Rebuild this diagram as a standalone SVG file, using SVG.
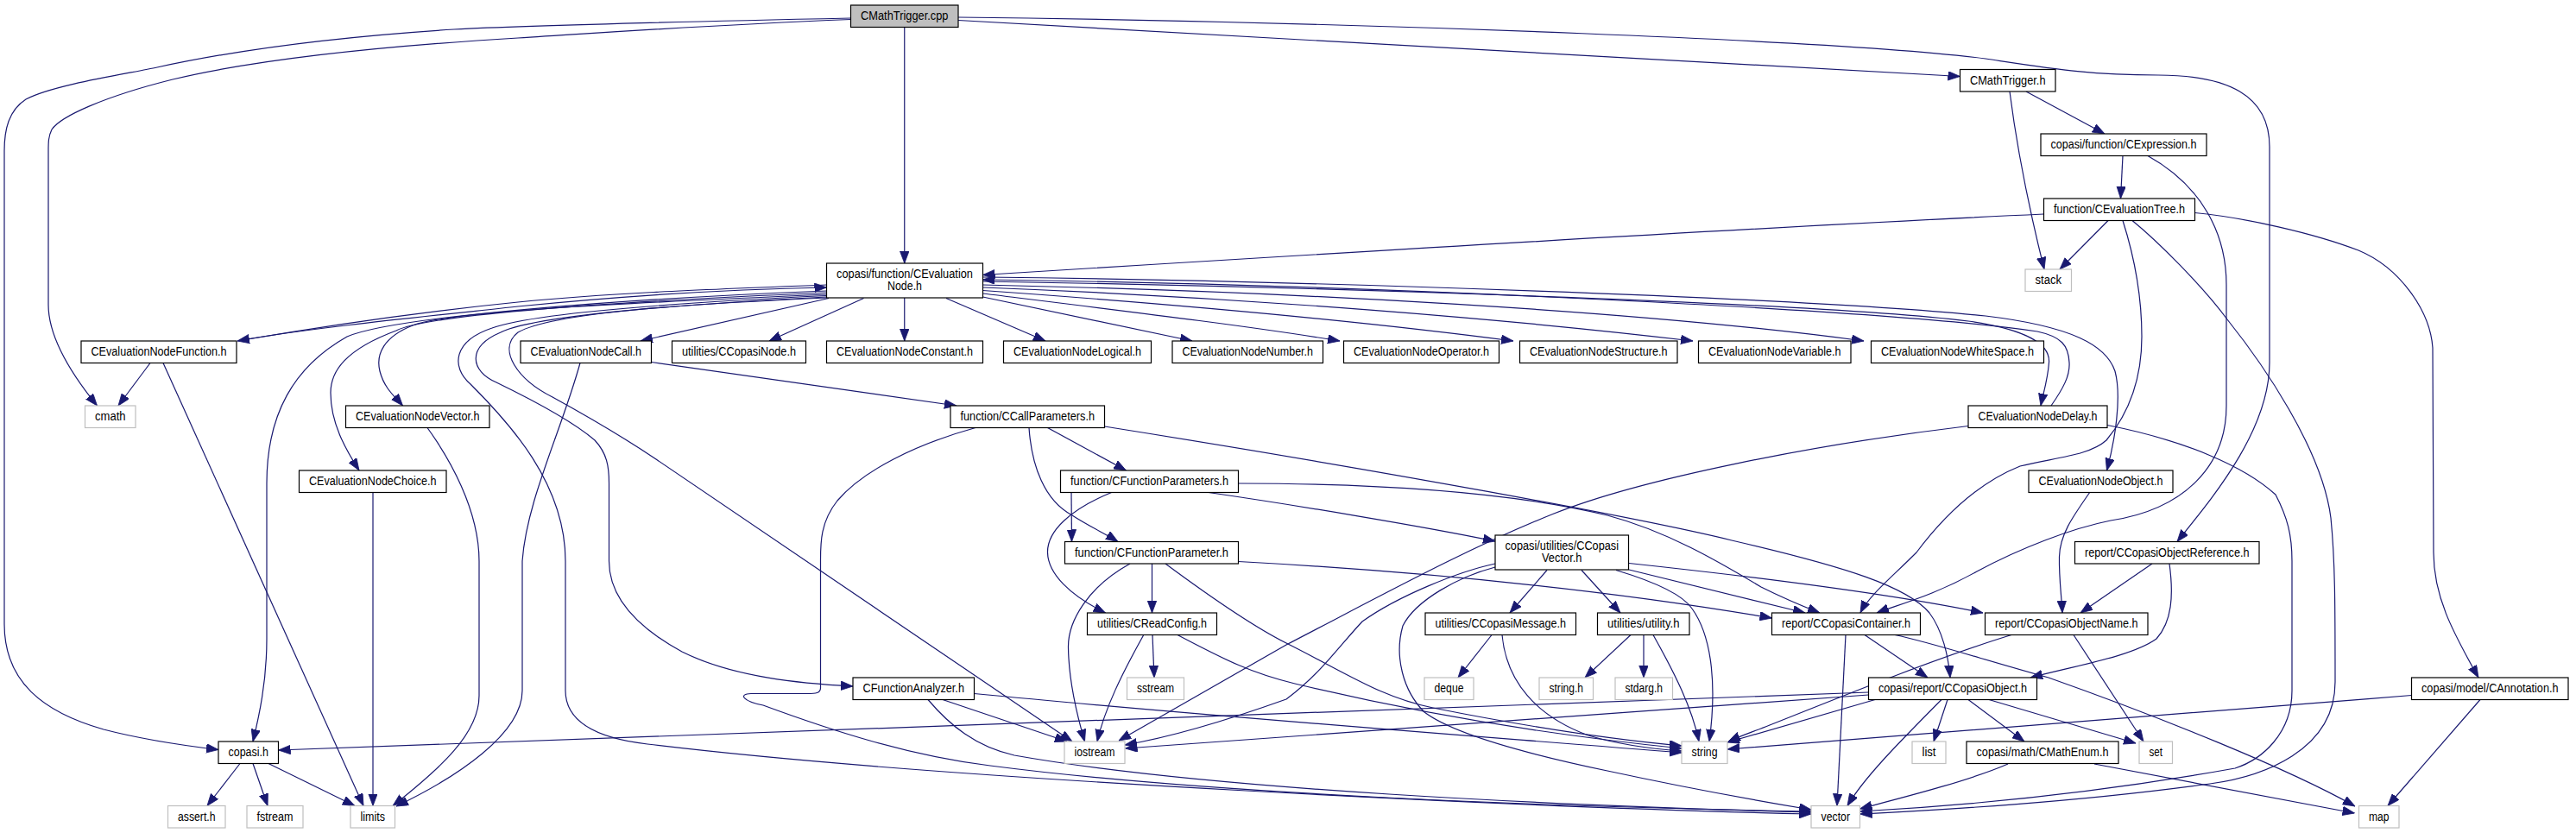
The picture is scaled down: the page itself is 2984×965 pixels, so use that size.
<svg xmlns="http://www.w3.org/2000/svg" width="2984" height="965" viewBox="0 0 2984 965">
<style>
.node rect{fill:#fff;stroke:#000;stroke-width:1.2}
.sys rect{stroke:#bfbfbf}
.root rect{fill:#bfbfbf}
text{font-family:"Liberation Sans",Arial,sans-serif;font-size:14px;text-anchor:middle;fill:#000}
#edges path{fill:none;stroke:#191970;stroke-width:1.2;marker-end:url(#ah)}
</style>
<defs>
<marker id="ah" markerWidth="14" markerHeight="11" refX="14" refY="5.25" orient="auto" markerUnits="userSpaceOnUse"><path d="M0,0 L14,5.25 L0,10.5 z" fill="#191970" stroke="#191970" stroke-width="0.8"/></marker>
</defs>
<rect width="2984" height="965" fill="#fff"/>
<g id="edges">
<path d="M985.5,21 C800,25 600,30 526,34 C400,42 287,55 182,78 C150,85 62,98 30,115 C10,128 5,150 5,175 L5,723 C5,790 50,825 120,845 C170,858 215,864 253,868.5"/>
<path d="M985.5,22.5 C800,30 700,38 600,44 C450,53 300,68 200,92 C120,112 70,135 60,150 C56,158 56,165 56,175 L56,353 C56,390 80,430 112.5,470"/>
<path d="M1047.75,31.5 L1047.75,305"/>
<path d="M1110,23.5 C1500,45 2000,75 2270.5,88.5"/>
<path d="M1110,20 C1600,26 2150,48 2300,68 C2380,80 2420,87 2500,87 C2580,87 2629,110 2629,170 L2629,420 C2629,500 2560,580 2522,627.5"/>
<path d="M2347,106 L2438,155"/>
<path d="M2328,106 C2340,200 2360,280 2368,312"/>
<path d="M2459,180.5 L2456.5,230"/>
<path d="M2488,180.5 C2550,215 2579,270 2579,330 L2579,470 C2579,540 2530,590 2445,603 C2400,612 2340,635 2290,662 C2240,690 2200,700 2174,710"/>
<path d="M2442,255.5 L2386,312"/>
<path d="M2367.5,248 C2000,265 1500,296 1138.5,318.5"/>
<path d="M2459,255.5 C2470,290 2481,340 2481,390 C2481,440 2465,480 2440,510 C2420,528 2380,530 2340,540 C2290,560 2250,600 2220,640 C2190,670 2165,690 2155,710"/>
<path d="M2470,255.5 C2500,280 2550,330 2580,370 C2620,420 2690,520 2700,600 C2705,650 2705,700 2705,790 C2705,870 2620,900 2560,908 C2400,930 2250,938 2154.5,943"/>
<path d="M2542.5,246.5 C2600,252 2680,270 2732,290 C2780,310 2815,360 2818,403 L2819,640 C2819,690 2840,730 2871,785"/>
<path d="M957.5,330 C800,336 700,340 600,350 C480,362 350,382 275,395"/>
<path d="M280,394 C360,380 480,368 600,355 C720,343 850,335 957.5,333"/>
<path d="M960,345.5 L742,395"/>
<path d="M1000.5,345.5 L891,395"/>
<path d="M1047.75,345 L1047.75,395"/>
<path d="M1096,345.5 L1211,395"/>
<path d="M1138.5,344 L1381,395"/>
<path d="M1138.5,340 C1300,360 1450,378 1552,395"/>
<path d="M1138.5,336.5 C1400,355 1600,375 1753,395"/>
<path d="M1138.5,333 C1450,345 1750,370 1961,395"/>
<path d="M1138.5,330 C1500,338 1900,360 2159,395"/>
<path d="M1138.5,326 C1500,332 2100,350 2280,372 C2350,382 2375,400 2373.5,420 C2372,440 2367,455 2364,470"/>
<path d="M2376,470 C2390,450 2398,435 2397,420 C2396,400 2388,390 2360,384 C2200,360 1600,330 1138.5,324"/>
<path d="M1138.5,321 C1500,325 2100,345 2300,366 C2400,378 2440,400 2450,430 C2458,460 2450,510 2440.5,545"/>
<path d="M957.5,337 C750,345 460,365 402,390 C340,425 309,480 309,560 L309,740 C309,790 300,830 293,859"/>
<path d="M957.5,339 C750,348 500,362 459,383 C400,405 383,430 383,455 C383,490 400,520 416,545"/>
<path d="M957.5,341 C750,350 520,360 478,377 C445,390 435,410 440,430 C445,450 458,460 466.5,470"/>
<path d="M957.5,342.5 C800,350 620,362 570,380 C525,395 522,425 545,445 C590,490 655,560 655,650 L655,800 C655,835 690,855 750,862 C1100,905 1800,936 2098,943"/>
<path d="M957.5,344 C800,352 620,365 580,385 C540,402 545,430 575,443 C610,460 660,485 689,510 C703,525 705.5,540 705.5,560 L705.5,650 C705.5,690 735,725 790,755 C850,785 930,792 988,795"/>
<path d="M958,345 C800,352 640,362 600,385 C575,405 600,440 640,460 C680,482 720,505 760,532 L1242,859"/>
<path d="M672,420.5 C650,500 610,580 605,650 L605,800 C605,850 530,900 459,934"/>
<path d="M754.5,419.5 L1108,470"/>
<path d="M174,420.5 L137,470"/>
<path d="M189,420.5 L421,933.5"/>
<path d="M495,495.5 C520,530 555,590 555,650 L555,806 C555,850 510,890 455,933.5"/>
<path d="M432,570 L432,933.5"/>
<path d="M278,884.5 L240,933.5"/>
<path d="M293,884.5 L310,933.5"/>
<path d="M311,884.5 L411,933.5"/>
<path d="M1213.5,495.5 L1304.5,545"/>
<path d="M1192,495.5 C1195,540 1210,580 1242,597 C1262,610 1280,618 1295,627.5"/>
<path d="M1130,495.5 C1060,515 1000,545 970,580 C950,605 950.5,630 950.5,650 L950.5,797 C950.5,803 945,803.5 935,803.5 L870,803.5 C855,804 860,812 884,817 C960,845 1050,875 1147,887 C1400,920 1800,935 2098,940"/>
<path d="M1279.5,494 C1600,545 1900,600 2006,626 C2140,657 2210,680 2235,710 C2250,730 2257,760 2259,785"/>
<path d="M1241,570.5 L1241.5,627.5"/>
<path d="M1287.5,570.5 C1240,590 1213,615 1213.5,640 C1214,665 1240,690 1280.5,710"/>
<path d="M1400,570.5 C1500,585 1650,610 1732,627"/>
<path d="M1434.5,560 C1600,560 1750,570 1862,597 C1930,615 1990,650 2040,680 C2070,695 2090,703 2108,710"/>
<path d="M1334.5,653 L1334.5,710"/>
<path d="M1309,653 C1260,680 1237,720 1237.5,750 C1238,790 1248,830 1256.5,859"/>
<path d="M1350,653 C1400,690 1450,725 1490,745 C1560,780 1600,808 1660,820 C1760,840 1860,856 1948,864"/>
<path d="M1434.5,650.5 C1700,665 1900,690 2052.5,716"/>
<path d="M1335,735.5 L1337,785"/>
<path d="M1324.5,736 C1300,780 1280,820 1271,859"/>
<path d="M1364,735.5 C1420,765 1450,780 1500,792 C1650,828 1800,852 1948,867"/>
<path d="M1092,810.5 L1236,859"/>
<path d="M1075,810.5 C1100,840 1130,865 1175,875 C1400,915 1800,933 2098,941"/>
<path d="M1128.5,803.5 C1400,830 1700,852 1948,872"/>
<path d="M2280,493.5 C2100,515 1900,555 1800,595 C1700,635 1600,690 1490,747 L1296,858"/>
<path d="M2441,492.5 C2530,510 2600,540 2636,573 C2650,600 2655,620 2655,650 L2655,800 C2655,850 2620,880 2589,890 C2450,915 2300,932 2154.5,940"/>
<path d="M1792,660.5 L1749,710"/>
<path d="M1832,660.5 L1877,710"/>
<path d="M1872,660.5 C1920,675 1950,690 1960,705 C1985,740 1988,800 1980,859"/>
<path d="M1887,660 L2091,710"/>
<path d="M1887,652.5 C2050,670 2200,690 2297,710"/>
<path d="M1732,657 C1690,668 1640,695 1625,725 C1615,760 1625,800 1650,825 C1690,855 1800,880 1862,893 C1950,912 2050,930 2098,938"/>
<path d="M1732,653 C1690,662 1620,690 1578,720 C1550,750 1530,780 1490,810 C1420,835 1350,855 1303,863"/>
<path d="M1728,735.5 L1689,785"/>
<path d="M1740,735.5 C1745,790 1780,830 1840,852 C1880,864 1920,868 1948,870"/>
<path d="M1889,735.5 L1836,785"/>
<path d="M1904,735.5 L1904,785"/>
<path d="M1915,735.5 C1940,780 1960,820 1968,859"/>
<path d="M2138,735.5 L2128,933.5"/>
<path d="M2160,735.5 L2233,785"/>
<path d="M2195,735.5 C2240,745 2300,765 2373,785 C2500,830 2650,890 2728,934"/>
<path d="M2402,735.5 L2483,859"/>
<path d="M2330,735.5 C2250,760 2150,800 2050,840 C2030,848 2015,853 2002,859"/>
<path d="M2493,653 L2410,710"/>
<path d="M2513,653 C2518,690 2516,720 2498,740 C2470,760 2410,770 2352,785"/>
<path d="M2421,570 C2400,600 2386,620 2385.5,645 C2385,670 2388,690 2389,710"/>
<path d="M2164.5,802 L322.5,869"/>
<path d="M2164.5,805 C1800,830 1500,852 1303.5,867"/>
<path d="M2172,810.5 L2001,860"/>
<path d="M2256,810.5 L2240,859"/>
<path d="M2249,810.5 C2200,860 2160,900 2140,933.5"/>
<path d="M2280,810.5 L2345,859"/>
<path d="M2304,810.5 L2474,861"/>
<path d="M2326,885 C2280,905 2200,925 2154.5,937"/>
<path d="M2426,885 L2727.5,942"/>
<path d="M2793.5,805.5 C2500,830 2200,850 2001,868"/>
<path d="M2873,810.5 L2766,933.5"/>
</g>
<g id="n0" class="node root"><rect x="985.5" y="6" width="124.5" height="25.5"/><text x="1047.75" y="23" textLength="101.5" lengthAdjust="spacingAndGlyphs">CMathTrigger.cpp</text></g>
<g id="n1" class="node"><rect x="2270.5" y="80.5" width="110.5" height="25.5"/><text x="2325.75" y="97.5" textLength="87.5" lengthAdjust="spacingAndGlyphs">CMathTrigger.h</text></g>
<g id="n2" class="node"><rect x="2364" y="155" width="192" height="25.5"/><text x="2460" y="172" textLength="169" lengthAdjust="spacingAndGlyphs">copasi/function/CExpression.h</text></g>
<g id="n3" class="node"><rect x="2367.5" y="230" width="175" height="25.5"/><text x="2455" y="247" textLength="152" lengthAdjust="spacingAndGlyphs">function/CEvaluationTree.h</text></g>
<g id="n4" class="node"><rect x="957.5" y="305" width="181" height="40"/><text x="1048" y="321.5" textLength="158" lengthAdjust="spacingAndGlyphs">copasi/function/CEvaluation</text><text x="1048" y="336" textLength="40" lengthAdjust="spacingAndGlyphs">Node.h</text></g>
<g id="n5" class="node sys"><rect x="2346" y="312" width="53.5" height="25.5"/><text x="2372.75" y="329" textLength="30.5" lengthAdjust="spacingAndGlyphs">stack</text></g>
<g id="n6" class="node"><rect x="94" y="395" width="180" height="25.5"/><text x="184" y="412" textLength="157" lengthAdjust="spacingAndGlyphs">CEvaluationNodeFunction.h</text></g>
<g id="n7" class="node"><rect x="603" y="395" width="151.5" height="25.5"/><text x="678.75" y="412" textLength="128.5" lengthAdjust="spacingAndGlyphs">CEvaluationNodeCall.h</text></g>
<g id="n8" class="node"><rect x="778.5" y="395" width="155" height="25.5"/><text x="856" y="412" textLength="132" lengthAdjust="spacingAndGlyphs">utilities/CCopasiNode.h</text></g>
<g id="n9" class="node"><rect x="957.5" y="395" width="181" height="25.5"/><text x="1048" y="412" textLength="158" lengthAdjust="spacingAndGlyphs">CEvaluationNodeConstant.h</text></g>
<g id="n10" class="node"><rect x="1162.5" y="395" width="171" height="25.5"/><text x="1248" y="412" textLength="148" lengthAdjust="spacingAndGlyphs">CEvaluationNodeLogical.h</text></g>
<g id="n11" class="node"><rect x="1358" y="395" width="174.5" height="25.5"/><text x="1445.25" y="412" textLength="151.5" lengthAdjust="spacingAndGlyphs">CEvaluationNodeNumber.h</text></g>
<g id="n12" class="node"><rect x="1556.5" y="395" width="180" height="25.5"/><text x="1646.5" y="412" textLength="157" lengthAdjust="spacingAndGlyphs">CEvaluationNodeOperator.h</text></g>
<g id="n13" class="node"><rect x="1760.5" y="395" width="182.5" height="25.5"/><text x="1851.75" y="412" textLength="159.5" lengthAdjust="spacingAndGlyphs">CEvaluationNodeStructure.h</text></g>
<g id="n14" class="node"><rect x="1967.5" y="395" width="176.5" height="25.5"/><text x="2055.75" y="412" textLength="153.5" lengthAdjust="spacingAndGlyphs">CEvaluationNodeVariable.h</text></g>
<g id="n15" class="node"><rect x="2167.5" y="395" width="200" height="25.5"/><text x="2267.5" y="412" textLength="177" lengthAdjust="spacingAndGlyphs">CEvaluationNodeWhiteSpace.h</text></g>
<g id="n16" class="node sys"><rect x="98.5" y="470" width="58.5" height="25.5"/><text x="127.75" y="487" textLength="35.5" lengthAdjust="spacingAndGlyphs">cmath</text></g>
<g id="n17" class="node"><rect x="400.5" y="470" width="166.5" height="25.5"/><text x="483.75" y="487" textLength="143.5" lengthAdjust="spacingAndGlyphs">CEvaluationNodeVector.h</text></g>
<g id="n18" class="node"><rect x="1101" y="470" width="178.5" height="25.5"/><text x="1190.25" y="487" textLength="155.5" lengthAdjust="spacingAndGlyphs">function/CCallParameters.h</text></g>
<g id="n19" class="node"><rect x="2280" y="470" width="161" height="25.5"/><text x="2360.5" y="487" textLength="138" lengthAdjust="spacingAndGlyphs">CEvaluationNodeDelay.h</text></g>
<g id="n20" class="node"><rect x="346.5" y="545" width="170.5" height="25.5"/><text x="431.75" y="562" textLength="147.5" lengthAdjust="spacingAndGlyphs">CEvaluationNodeChoice.h</text></g>
<g id="n21" class="node"><rect x="1228.5" y="545" width="206" height="25.5"/><text x="1331.5" y="562" textLength="183" lengthAdjust="spacingAndGlyphs">function/CFunctionParameters.h</text></g>
<g id="n22" class="node"><rect x="2350" y="545" width="167" height="25.5"/><text x="2433.5" y="562" textLength="144" lengthAdjust="spacingAndGlyphs">CEvaluationNodeObject.h</text></g>
<g id="n23" class="node"><rect x="1233.5" y="627.5" width="201" height="25.5"/><text x="1334" y="644.5" textLength="178" lengthAdjust="spacingAndGlyphs">function/CFunctionParameter.h</text></g>
<g id="n24" class="node"><rect x="1732" y="620" width="154.5" height="40"/><text x="1809.25" y="636.5" textLength="131.5" lengthAdjust="spacingAndGlyphs">copasi/utilities/CCopasi</text><text x="1809.25" y="651" textLength="46.5" lengthAdjust="spacingAndGlyphs">Vector.h</text></g>
<g id="n25" class="node"><rect x="2403.5" y="627.5" width="213.5" height="25.5"/><text x="2510.25" y="644.5" textLength="190.5" lengthAdjust="spacingAndGlyphs">report/CCopasiObjectReference.h</text></g>
<g id="n26" class="node"><rect x="1259.5" y="710" width="150" height="25.5"/><text x="1334.5" y="727" textLength="127" lengthAdjust="spacingAndGlyphs">utilities/CReadConfig.h</text></g>
<g id="n27" class="node"><rect x="1651" y="710" width="174.5" height="25.5"/><text x="1738.25" y="727" textLength="151.5" lengthAdjust="spacingAndGlyphs">utilities/CCopasiMessage.h</text></g>
<g id="n28" class="node"><rect x="1850.5" y="710" width="106.5" height="25.5"/><text x="1903.75" y="727" textLength="83.5" lengthAdjust="spacingAndGlyphs">utilities/utility.h</text></g>
<g id="n29" class="node"><rect x="2052.5" y="710" width="172" height="25.5"/><text x="2138.5" y="727" textLength="149" lengthAdjust="spacingAndGlyphs">report/CCopasiContainer.h</text></g>
<g id="n30" class="node"><rect x="2299.5" y="710" width="188.5" height="25.5"/><text x="2393.75" y="727" textLength="165.5" lengthAdjust="spacingAndGlyphs">report/CCopasiObjectName.h</text></g>
<g id="n31" class="node"><rect x="988" y="785" width="140.5" height="25.5"/><text x="1058.25" y="802" textLength="117.5" lengthAdjust="spacingAndGlyphs">CFunctionAnalyzer.h</text></g>
<g id="n32" class="node sys"><rect x="1305.5" y="785" width="66" height="25.5"/><text x="1338.5" y="802" textLength="43" lengthAdjust="spacingAndGlyphs">sstream</text></g>
<g id="n33" class="node sys"><rect x="1650" y="785" width="57" height="25.5"/><text x="1678.5" y="802" textLength="34" lengthAdjust="spacingAndGlyphs">deque</text></g>
<g id="n34" class="node sys"><rect x="1783" y="785" width="62.5" height="25.5"/><text x="1814.25" y="802" textLength="39.5" lengthAdjust="spacingAndGlyphs">string.h</text></g>
<g id="n35" class="node sys"><rect x="1871" y="785" width="66.5" height="25.5"/><text x="1904.25" y="802" textLength="43.5" lengthAdjust="spacingAndGlyphs">stdarg.h</text></g>
<g id="n36" class="node"><rect x="2164.5" y="785" width="195" height="25.5"/><text x="2262" y="802" textLength="172" lengthAdjust="spacingAndGlyphs">copasi/report/CCopasiObject.h</text></g>
<g id="n37" class="node"><rect x="2793.5" y="785" width="181.5" height="25.5"/><text x="2884.25" y="802" textLength="158.5" lengthAdjust="spacingAndGlyphs">copasi/model/CAnnotation.h</text></g>
<g id="n38" class="node"><rect x="253" y="859" width="69.5" height="25.5"/><text x="287.75" y="876" textLength="46.5" lengthAdjust="spacingAndGlyphs">copasi.h</text></g>
<g id="n39" class="node sys"><rect x="1233" y="859" width="70" height="25.5"/><text x="1268" y="876" textLength="47" lengthAdjust="spacingAndGlyphs">iostream</text></g>
<g id="n40" class="node sys"><rect x="1948" y="859" width="53" height="25.5"/><text x="1974.5" y="876" textLength="30" lengthAdjust="spacingAndGlyphs">string</text></g>
<g id="n41" class="node sys"><rect x="2215" y="859" width="39" height="25.5"/><text x="2234.5" y="876" textLength="16" lengthAdjust="spacingAndGlyphs">list</text></g>
<g id="n42" class="node"><rect x="2278" y="859" width="176" height="25.5"/><text x="2366" y="876" textLength="153" lengthAdjust="spacingAndGlyphs">copasi/math/CMathEnum.h</text></g>
<g id="n43" class="node sys"><rect x="2478" y="859" width="38.5" height="25.5"/><text x="2497.25" y="876" textLength="15.5" lengthAdjust="spacingAndGlyphs">set</text></g>
<g id="n44" class="node sys"><rect x="194.5" y="933.5" width="66.5" height="25.5"/><text x="227.75" y="950.5" textLength="43.5" lengthAdjust="spacingAndGlyphs">assert.h</text></g>
<g id="n45" class="node sys"><rect x="286" y="933.5" width="65" height="25.5"/><text x="318.5" y="950.5" textLength="42" lengthAdjust="spacingAndGlyphs">fstream</text></g>
<g id="n46" class="node sys"><rect x="406" y="933.5" width="51.5" height="25.5"/><text x="431.75" y="950.5" textLength="28.5" lengthAdjust="spacingAndGlyphs">limits</text></g>
<g id="n47" class="node sys"><rect x="2098" y="933.5" width="56.5" height="25.5"/><text x="2126.25" y="950.5" textLength="33.5" lengthAdjust="spacingAndGlyphs">vector</text></g>
<g id="n48" class="node sys"><rect x="2732.5" y="933.5" width="46.5" height="25.5"/><text x="2755.75" y="950.5" textLength="23.5" lengthAdjust="spacingAndGlyphs">map</text></g>
</svg>
